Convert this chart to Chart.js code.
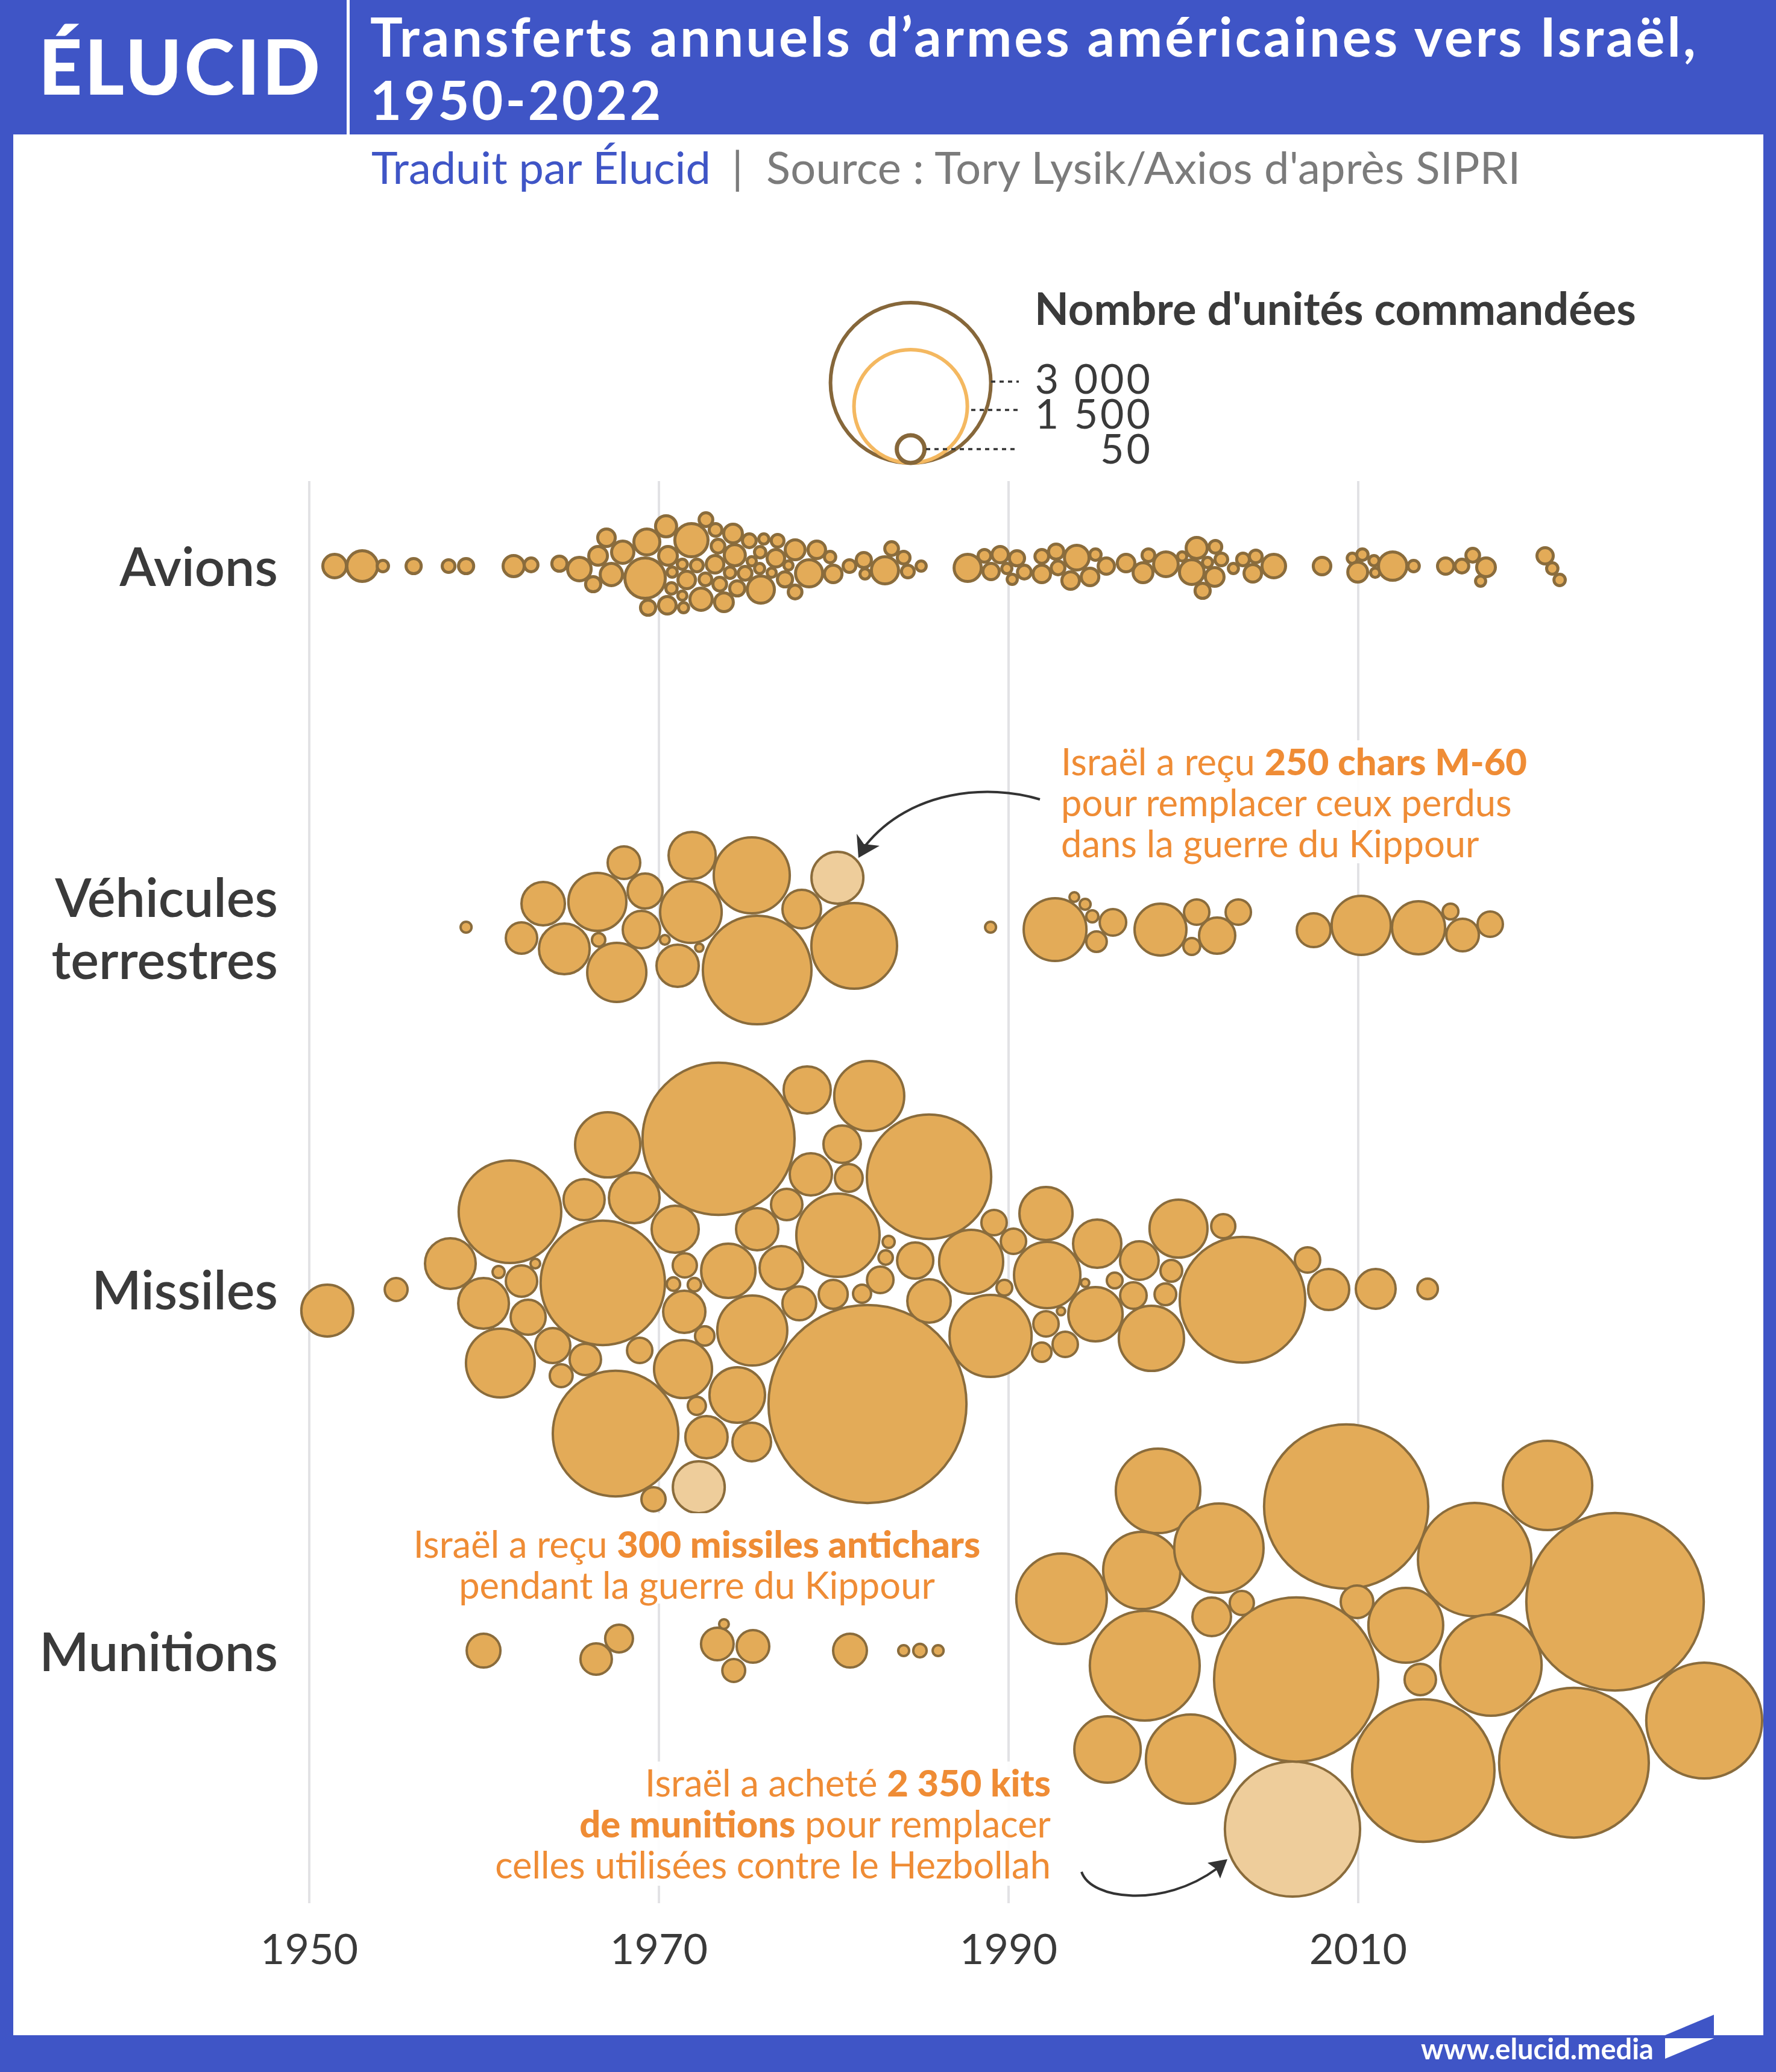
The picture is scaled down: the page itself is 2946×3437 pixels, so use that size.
<!DOCTYPE html>
<html lang="fr">
<head>
<meta charset="UTF-8">
<title>Transferts annuels d'armes américaines vers Israël, 1950-2022</title>
<style>
    html, body { margin: 0; padding: 0; }
    body { position: relative; width: 2946px; height: 3437px; overflow: hidden; background: #fff; font-family: Lato, sans-serif; color: #3a3a3a; }
    #chart { position: absolute; left: 0; top: 0; z-index: 1; }
    .frame { position: absolute; background: #3f55c6; z-index: 3; }
    .text { position: absolute; white-space: nowrap; z-index: 4; }
    .note { position: absolute; z-index: 2; background: rgba(255, 255, 255, 0.93); color: #ef8c35; font-size: 61.5px; line-height: 68px; white-space: nowrap; }
    .note b { font-weight: 900; }
    svg { position: absolute; left: 0; top: 0; z-index: 4; }
</style>
</head>
<body>
<div class="frame" style="left:0;top:0;width:2946px;height:223px"></div>
<div class="frame" style="left:0;top:0;width:22px;height:3437px"></div>
<div class="frame" style="left:2925px;top:0;width:21px;height:3437px"></div>
<div class="frame" style="left:0;top:3376px;width:2946px;height:61px"></div>
<div class="frame" style="left:575px;top:0;width:5px;height:223px;background:#fff"></div>

<div class="text" style="left:64px;top:46px;font-size:126px;line-height:126px;font-weight:900;color:#fff;letter-spacing:4px">ÉLUCID</div>
<div class="text" style="left:614px;top:7px;font-size:90px;line-height:105px;font-weight:700;color:#fff;letter-spacing:3.9px">Transferts annuels d’armes américaines vers Israël,<br>1950-2022</div>
<div class="text" style="left:616px;top:232px;font-size:74px;line-height:90px;color:#3f55c6">Traduit par Élucid</div>
<div class="text" style="left:1214px;top:232px;font-size:74px;line-height:90px;color:#7b7b7b">|</div>
<div class="text" style="left:1271px;top:232px;font-size:74px;line-height:90px;color:#7b7b7b;letter-spacing:.3px">Source : Tory Lysik/Axios d'après SIPRI</div>

<div class="text" style="left:1716px;top:468px;font-size:74px;line-height:86px;font-weight:700">Nombre d'unités commandées</div>
<div class="text" style="left:1704px;width:208px;top:598px;font-size:68px;line-height:58px;text-align:right;letter-spacing:4px">3 000<br>1 500<br>50</div>

<div class="note" style="left:1750px;top:1228px;width:800px;height:204px;padding-left:10px;box-sizing:border-box">Israël a reçu <b>250 chars M-60</b><br>pour remplacer ceux perdus<br>dans la guerre du Kippour</div>
<div class="note" style="left:660px;top:2510px;width:992px;height:150px;text-align:center;padding-top:16px;box-sizing:border-box">Israël a reçu <b>300 missiles antichars</b><br>pendant la guerre du Kippour</div>
<div class="note" style="left:815px;top:2922px;width:928px;height:206px;text-align:right">Israël a acheté <b>2 350 kits</b><br><b>de munitions</b> pour remplacer<br>celles utilisées contre le Hezbollah</div>

<div class="text" style="left:2357px;top:3370px;font-size:47px;line-height:56px;font-weight:700;color:#fff">www.elucid.media</div>

<svg width="2946" height="3437" viewBox="0 0 2946 3437">
    <!-- legend leaders -->
    <g stroke="#333" stroke-width="3.5" stroke-dasharray="7 7" fill="none">
        <path d="M1644 633H1690"/>
        <path d="M1611 680H1690"/>
        <path d="M1536 745H1690"/>
    </g>
    <!-- note arrows -->
    <path d="M1725 1326C1640 1300 1510 1310 1436 1402" stroke="#333" stroke-width="4" fill="none"/>
    <path d="M1424 1423L1421 1383L1433 1400L1459 1403Z" fill="#333"/>
    <path d="M1794 3105C1810 3152 1930 3165 2018 3100" stroke="#333" stroke-width="4" fill="none"/>
    <path d="M2036 3084L2003 3090L2017 3100L2024 3116Z" fill="#333"/>
    <!-- footer mark -->
    <path d="M2843 3342L2762 3376H2843Z" fill="#3f55c6"/>
    <path d="M2762 3381H2843L2762 3415Z" fill="#fff"/>
</svg>

<canvas id="chart" width="2946" height="3437"></canvas>

<script src="https://cdn.jsdelivr.net/npm/chart.js@4/dist/chart.umd.min.js"></script>
<script>
    var categories = ['Avions', ['Véhicules', 'terrestres'], 'Missiles', 'Munitions'];
    var lanes = [940, 1540, 2140, 2740];
    var tickYears = [1950, 1970, 1990, 2010];

    // year, vertical swarm offset from the lane, units ordered:
    var avionsYears = [
        1951.45, 1953.03, 1954.21, 1955.97, 1957.97, 1958.97, 1961.69, 1962.69, 1964.31, 1965.45,
        1966.24, 1966.52, 1967.28, 1967.00, 1967.93, 1969.31, 1969.21, 1970.41, 1970.52, 1971.86,
        1972.69, 1973.24, 1973.38, 1974.24, 1974.34, 1973.21, 1972.17, 1971.34, 1970.76, 1971.59,
        1972.66, 1974.07, 1973.48, 1974.93, 1974.48, 1975.83, 1970.72, 1971.34, 1972.41, 1973.72,
        1971.41, 1970.48, 1969.38, 1975.17, 1976.00, 1976.79, 1977.79, 1975.79, 1976.69, 1975.31,
        1975.76, 1976.45, 1977.41, 1977.21, 1977.79, 1978.59, 1979.03, 1979.79, 1979.97, 1980.90,
        1981.72, 1981.79, 1982.93, 1983.31, 1984.00, 1984.24, 1985.00, 1987.66, 1988.62, 1989.52,
        1989.00, 1990.48, 1989.90, 1990.21, 1990.90, 1991.90, 1992.72, 1991.90, 1992.83, 1993.90,
        1993.55, 1994.66, 1994.97, 1995.59, 1996.72, 1997.69, 1998.00, 1999.00, 1999.93, 2000.76,
        2001.83, 2000.48, 2001.38, 2002.17, 2001.79, 2001.10, 2002.86, 2003.41, 2004.14, 2003.97,
        2005.17, 2007.93, 2009.66, 2010.24, 2009.97, 2010.90, 2010.97, 2011.97, 2013.17, 2015.00,
        2015.93, 2016.55, 2017.31, 2017.00, 2020.69, 2021.10, 2021.52
    ];
    var avionsOffsets = [
        -1, -1, -1, -1, -1, -1, -1, -3, -5, 4,
        29, -18, 13, -48, -24, -41, 19, -67, -18, -44,
        -78, -61, -34, -55, -19, -4, -2, -4, 9, 22,
        21, 10, 29, 11, 36, 38, 36, 48, 54, 59,
        68, 64, 68, -43, -46, -43, -28, -24, -14, -9,
        3, 10, -2, 21, 42, 11, -28, -16, 12, -1,
        -11, 12, 6, -30, -15, 8, -1, 2, -18, -20,
        8, -14, 3, 21, 9, -17, -25, 12, 2, -15,
        23, 17, -20, -1, -6, 10, -19, -4, -17, -31,
        -33, 9, -7, -12, 17, 40, 3, -12, -17, 11,
        -1, -1, -14, -20, 9, -10, 10, -1, -1, -1,
        -1, -19, 1, 24, -18, 3, 22
    ];
    var avionsUnits = [
        65, 110, 15, 27, 19, 27, 52, 22, 27, 65,
        27, 41, 58, 36, 58, 79, 191, 52, 41, 129,
        22, 19, 22, 41, 52, 36, 19, 12, 12, 36,
        19, 15, 22, 22, 27, 86, 15, 10, 58, 41,
        12, 36, 27, 22, 12, 19, 46, 15, 36, 10,
        12, 10, 10, 27, 22, 86, 36, 15, 36, 19,
        27, 12, 86, 22, 19, 19, 12, 86, 19, 31,
        31, 27, 12, 12, 22, 22, 27, 36, 22, 71,
        36, 36, 15, 31, 36, 46, 19, 71, 10, 52,
        19, 71, 12, 19, 41, 27, 12, 19, 19, 36,
        65, 36, 12, 15, 46, 12, 10, 94, 15, 31,
        22, 22, 41, 12, 31, 15, 15
    ];

    var vehiculesYears = [
        1958.97, 1962.14, 1963.38, 1964.59, 1966.48, 1968.00, 1969.21, 1966.55, 1969.00, 1967.59,
        1971.90, 1971.83, 1975.31, 1970.34, 1971.07, 1972.31, 1975.62, 1978.17, 1981.17, 1988.97,
        1992.66, 1993.76, 1994.38, 1994.79, 1995.97, 1995.03, 1998.69, 2000.76, 2000.48, 2001.93,
        2003.14, 2007.45, 2010.17, 2013.45, 2015.28, 2015.97, 2017.55
    ];
    var vehiculesOffsets = [
        -2, 16, -41, 34, -44, -109, -62, 19, 2, 73,
        -121, -27, -88, 19, 62, 32, 69, -32, 29, -2,
        2, -52, -40, -20, -10, 22, 2, -27, 30, 12,
        -27, 3, -5, -1, -28, 11, -7
    ];
    var vehiculesUnits = [
        14, 115, 220, 300, 392, 124, 143, 21, 163, 408,
        259, 442, 675, 11, 208, 8, 1377, 174, 857, 14,
        460, 11, 14, 17, 82, 49, 314, 75, 33, 153,
        75, 133, 408, 329, 29, 124, 75
    ];

    var missilesYears = [
        1951.03, 1954.97, 1958.07, 1961.48, 1960.83, 1962.93, 1962.14, 1959.97, 1962.52, 1960.93,
        1963.93, 1965.79, 1964.41, 1966.79, 1965.72, 1968.59, 1967.07, 1973.41, 1978.48, 1982.03,
        1980.48, 1978.69, 1980.86, 1985.45, 1970.93, 1977.31, 1975.62, 1980.24, 1971.48, 1970.83,
        1972.03, 1973.97, 1977.00, 1983.14, 1982.97, 1984.66, 1982.66, 1981.62, 1979.97, 1978.03,
        1971.45, 1975.34, 1972.62, 1968.90, 1971.38, 1974.48, 1972.17, 1967.52, 1972.72, 1975.31,
        1981.93, 1985.45, 1969.69, 1989.17, 1990.28, 1992.14, 1987.86, 1992.21, 1995.07, 1989.76,
        1988.97, 1997.48, 1999.72, 2002.28, 1999.31, 1996.07, 1994.38, 1997.14, 1998.97, 1994.97,
        1993.00, 1992.14, 1993.24, 1991.90, 1998.17, 2003.38, 2007.10, 2008.31, 2011.00, 2013.97
    ];
    var missilesOffsets = [
        34, -1, -44, -130, -30, -44, -15, 22, 45, 121,
        92, 115, 142, -12, -150, -153, -241, -251, -332, -322,
        -242, -192, -186, -188, -101, -142, -101, -91, -41, -10,
        -9, -32, -37, -80, -54, -49, -17, 6, 7, 22,
        36, 67, 76, 100, 131, 174, 192, 238, 244, 252,
        189, 18, 347, -112, -81, -127, -47, -25, -77, -4,
        76, -49, -102, -106, -32, -16, -12, 9, 7, 40,
        35, 56, 90, 103, 80, 16, -50, -1, -2, -2
    ];
    var missilesUnits = [
        314, 61, 300, 1228, 17, 11, 115, 300, 143, 552,
        143, 115, 61, 1804, 197, 300, 496, 2699, 259, 572,
        163, 208, 90, 1804, 259, 115, 208, 809, 68, 21,
        21, 344, 220, 17, 24, 153, 82, 38, 98, 133,
        208, 572, 44, 75, 392, 360, 38, 1839, 208, 174,
        4572, 220, 68, 75, 75, 329, 478, 514, 272, 29,
        786, 174, 392, 68, 55, 29, 8, 82, 55, 344,
        8, 75, 75, 44, 496, 1839, 75, 197, 185, 49
    ];

    var munitionsYears = [
        1959.97, 1966.41, 1967.72, 1973.34, 1973.72, 1975.38, 1974.28, 1980.93, 1984.00, 1984.93,
        1985.97, 1998.55, 1993.03, 1997.62, 2002.03, 2001.62, 1997.79, 2003.34, 2009.31, 2020.83,
        2016.66, 2024.69, 2009.93, 2012.72, 2017.59, 2013.55, 2006.45, 1995.66, 2000.41, 2013.72,
        2022.34, 2029.79
    ];
    var munitionsOffsets = [
        -2, 12, -22, -13, -46, -9, 31, -2, -2, -2,
        -2, -267, -88, -135, -172, -58, 23, -81, -241, -276,
        -153, -83, -83, -44, 22, 46, 46, 162, 178, 197,
        184, 114
    ];
    var munitionsUnits = [
        133, 115, 90, 124, 11, 124, 61, 133, 14, 21,
        14, 833, 956, 696, 931, 174, 1408, 68, 3144, 931,
        1502, 3674, 124, 653, 1200, 115, 3144, 514, 931, 2367,
        2614, 1567
    ];

    // the three deliveries called out in the notes: tanks, missiles, munitions
    var calloutLanes = [1, 2, 3];
    var calloutYears = [1980.21, 1972.28, 2006.24];
    var calloutOffsets = [-84, 327, 294];
    var calloutUnits = [314, 314, 2132];

    // size key: the small ring is drawn larger in the reference than area scaling would give for 50
    var legendSizes = [3000, 1500, 90];
    var legendYear = 1984.4;
    var legendBase = 768;

    var gridTop = 798, gridBottom = 3157;

    function radiusOf(units) {
        return Math.sqrt(units / 3000) * 133;
    }

    function bubbles(years, offsets, units, lane) {
        return years.map(function (year, i) {
            return { x: year, y: lane + offsets[i], r: radiusOf(units[i]) };
        });
    }

    var fill = '#e3ab58', stroke = '#8a6c3c';

    function series(label, data, width) {
        return { label: label, data: data, backgroundColor: fill, borderColor: stroke, borderWidth: width, clip: false };
    }

    var gridLines = {
        id: 'gridLines',
        beforeDatasetsDraw: function (chart) {
            var ctx = chart.ctx, x = chart.scales.x, y = chart.scales.y;
            ctx.save();
            ctx.strokeStyle = '#e2e2e5';
            ctx.lineWidth = 4;
            tickYears.forEach(function (year) {
                ctx.beginPath();
                ctx.moveTo(x.getPixelForValue(year), y.getPixelForValue(gridTop));
                ctx.lineTo(x.getPixelForValue(year), y.getPixelForValue(gridBottom));
                ctx.stroke();
            });
            ctx.restore();
        }
    };

    new Chart(document.getElementById('chart'), {
        type: 'bubble',
        plugins: [gridLines],
        data: {
            datasets: [
                series('Avions', bubbles(avionsYears, avionsOffsets, avionsUnits, lanes[0]), 5),
                series('Véhicules terrestres', bubbles(vehiculesYears, vehiculesOffsets, vehiculesUnits, lanes[1]), 4),
                series('Missiles', bubbles(missilesYears, missilesOffsets, missilesUnits, lanes[2]), 4),
                series('Munitions', bubbles(munitionsYears, munitionsOffsets, munitionsUnits, lanes[3]), 4),
                {
                    label: 'Livraisons signalées',
                    data: calloutYears.map(function (year, i) {
                        return { x: year, y: lanes[calloutLanes[i]] + calloutOffsets[i], r: radiusOf(calloutUnits[i]) };
                    }),
                    backgroundColor: '#eecd9b',
                    borderColor: stroke,
                    borderWidth: 4,
                    clip: false
                },
                {
                    label: "Nombre d'unités commandées",
                    data: legendSizes.map(function (size) {
                        return { x: legendYear, y: legendBase - radiusOf(size), r: radiusOf(size) };
                    }),
                    backgroundColor: 'rgba(0,0,0,0)',
                    borderColor: ['#86673a', '#f4b860', '#86673a'],
                    borderWidth: [6, 6, 7],
                    clip: false
                }
            ]
        },
        options: {
            responsive: false,
            animation: false,
            events: [],
            layout: { autoPadding: false, padding: { left: 20, right: 26, top: 0, bottom: 0 } },
            plugins: { legend: { display: false }, tooltip: { enabled: false } },
            scales: {
                x: {
                    type: 'linear',
                    min: 1933,
                    max: 2033,
                    grid: { display: false, drawTicks: false },
                    border: { display: false },
                    afterBuildTicks: function (scale) {
                        scale.ticks = tickYears.map(function (v) { return { value: v }; });
                    },
                    afterFit: function (scale) { scale.height = 277; },
                    ticks: {
                        autoSkip: false,
                        maxRotation: 0,
                        padding: 33,
                        color: '#3a3a3a',
                        font: { family: 'Lato', size: 70 },
                        callback: function (v) { return String(v); }
                    }
                },
                y: {
                    type: 'linear',
                    reverse: true,
                    min: 0,
                    max: 3160,
                    position: { x: 1948.2 },
                    grid: { display: false, drawTicks: false },
                    border: { display: false },
                    // labels sit a touch below the lane centre
                    afterBuildTicks: function (scale) {
                        scale.ticks = lanes.map(function (v) { return { value: v + 4 }; });
                    },
                    // the labels sit well inside the plot, no room to reserve for them
                    afterFit: function (scale) { scale.paddingTop = 0; scale.paddingBottom = 0; },
                    ticks: {
                        autoSkip: false,
                        padding: 0,
                        color: '#3a3a3a',
                        font: { family: 'Lato', size: 88, weight: '600', lineHeight: 1.17 },
                        callback: function (v, i) { return categories[i]; }
                    }
                }
            }
        }
    });
</script>
</body>
</html>
